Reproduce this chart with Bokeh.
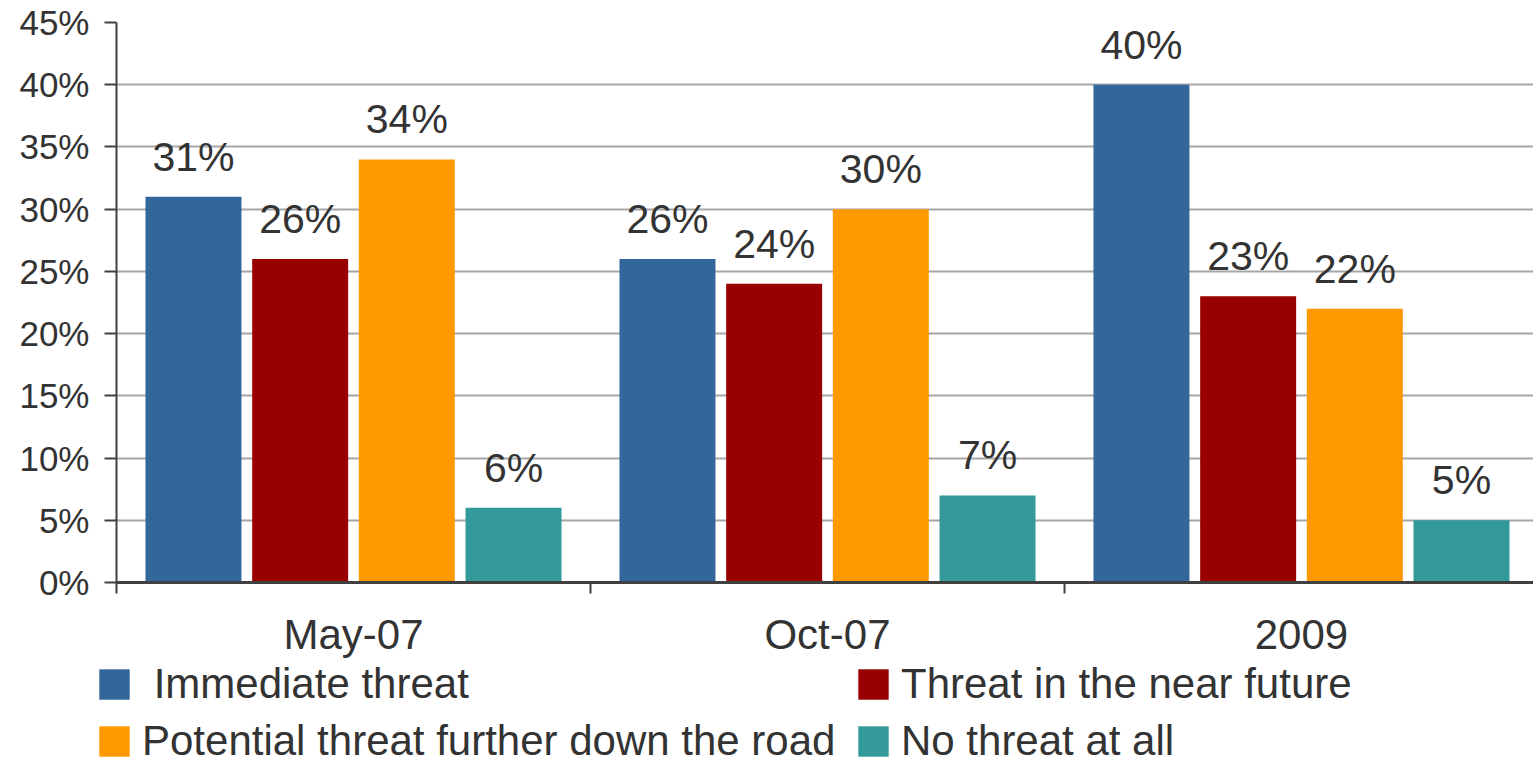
from bokeh.plotting import figure
from bokeh.models import ColumnDataSource, Range1d, FixedTicker, NumeralTickFormatter, Legend, LegendItem
from bokeh.layouts import column
from bokeh.core.properties import value
from bokeh.embed import file_html
from bokeh.resources import INLINE

periods = ["May-07", "Oct-07", "2009"]
series = [" Immediate threat", "Threat in the near future",
          "Potential threat further down the road", "No threat at all"]
immediate = [0.31, 0.26, 0.40]
near_future = [0.26, 0.24, 0.23]
potential = [0.34, 0.30, 0.22]
no_threat = [0.06, 0.07, 0.05]
y_ticks = [0, 0.05, 0.10, 0.15, 0.20, 0.25, 0.30, 0.35, 0.40, 0.45]

colors = ["#336699", "#990000", "#FF9900", "#339999"]
values_all = [immediate, near_future, potential, no_threat]
dodge = [-0.3376, -0.1125, 0.1125, 0.3376]
bar_w = 0.2025
FONT = "Liberation Sans"
TXT = "#333333"

W = 1533
H_MAIN = 660
H_LEG = 105

p = figure(width=W, height=H_MAIN, output_backend="svg", toolbar_location=None,
           x_range=Range1d(0, 2.9895), y_range=Range1d(0, 0.45),
           min_border_left=116, min_border_right=0, min_border_top=22, min_border_bottom=78)
p.frame_align = False
p.outline_line_color = None
p.background_fill_color = "white"
p.border_fill_color = "white"

centers = [i + 0.5 for i in range(len(periods))]
sources = []
for k, vals in enumerate(values_all):
    xs = [c + dodge[k] for c in centers]
    src = ColumnDataSource(dict(x=xs, top=vals, lab=["%d%%" % round(v * 100) for v in vals]))
    sources.append(src)
    p.vbar(x="x", top="top", bottom=0, width=bar_w, source=src,
           fill_color=colors[k], line_color=None)
    p.text(x="x", y="top", text="lab", source=src, text_align="center",
           text_baseline="alphabetic", y_offset=-40, text_font=value(FONT),
           text_font_size="41px", text_color=TXT)

# y axis
p.yaxis.ticker = FixedTicker(ticks=y_ticks)
p.yaxis.formatter = NumeralTickFormatter(format="0%")
p.yaxis.major_label_text_font = FONT
p.yaxis.major_label_text_font_size = "35px"
p.yaxis.major_label_text_color = TXT
p.yaxis.major_label_standoff = 15
p.yaxis.major_tick_out = 12
p.yaxis.major_tick_in = 0
p.yaxis.minor_tick_out = 0
p.yaxis.minor_tick_in = 0
p.yaxis.axis_line_color = "#404040"
p.yaxis.axis_line_width = 2
p.yaxis.major_tick_line_color = "#404040"
p.yaxis.major_tick_line_width = 2

# x axis: labels at group centers, ticks at group boundaries
p.xaxis.ticker = FixedTicker(ticks=centers, minor_ticks=[0, 1, 2, 3])
p.xaxis.major_label_overrides = {c: periods[i] for i, c in enumerate(centers)}
p.xaxis.major_label_text_font = FONT
p.xaxis.major_label_text_font_size = "42px"
p.xaxis.major_label_text_color = TXT
p.xaxis.major_label_standoff = 17
p.xaxis.major_tick_out = 0
p.xaxis.major_tick_in = 0
p.xaxis.minor_tick_out = 11
p.xaxis.minor_tick_in = 0
p.xaxis.minor_tick_line_color = "#404040"
p.xaxis.minor_tick_line_width = 2
p.xaxis.axis_line_color = "#404040"
p.xaxis.axis_line_width = 3

p.xgrid.grid_line_color = None
p.ygrid.ticker = FixedTicker(ticks=y_ticks)
p.ygrid.grid_line_color = "#A6A6A6"
p.ygrid.grid_line_width = 2

# legend in its own strip below the chart (its renderers share the data but lie outside its range)
lf = figure(width=W, height=H_LEG, output_backend="svg", toolbar_location=None,
            x_range=Range1d(0, 1), y_range=Range1d(10, 11),
            x_axis_location=None, y_axis_location=None,
            min_border_left=0, min_border_right=0, min_border_top=0, min_border_bottom=0)
lf.frame_align = False
lf.outline_line_color = None
lf.xgrid.grid_line_color = None
lf.ygrid.grid_line_color = None
leg_r = [lf.vbar(x="x", top="top", bottom=0, width=bar_w, source=sources[k],
                 fill_color=colors[k], line_color=None) for k in range(4)]

order = [0, 2, 1, 3]  # column-major fill -> row 1: series 0, 1; row 2: series 2, 3
legend = Legend(items=[LegendItem(label=series[k], renderers=[leg_r[k]]) for k in order],
                ncols=2, location=(95, 0),
                label_text_font=FONT, label_text_font_size="42px", label_text_color=TXT,
                glyph_width=38, glyph_height=38, label_standoff=9, spacing=9, label_width=703,
                padding=0, margin=0, border_line_alpha=0, background_fill_alpha=0)
lf.add_layout(legend, "center")

layout = column(p, lf, spacing=0)
open("out.html", "w").write(file_html(layout, INLINE))
